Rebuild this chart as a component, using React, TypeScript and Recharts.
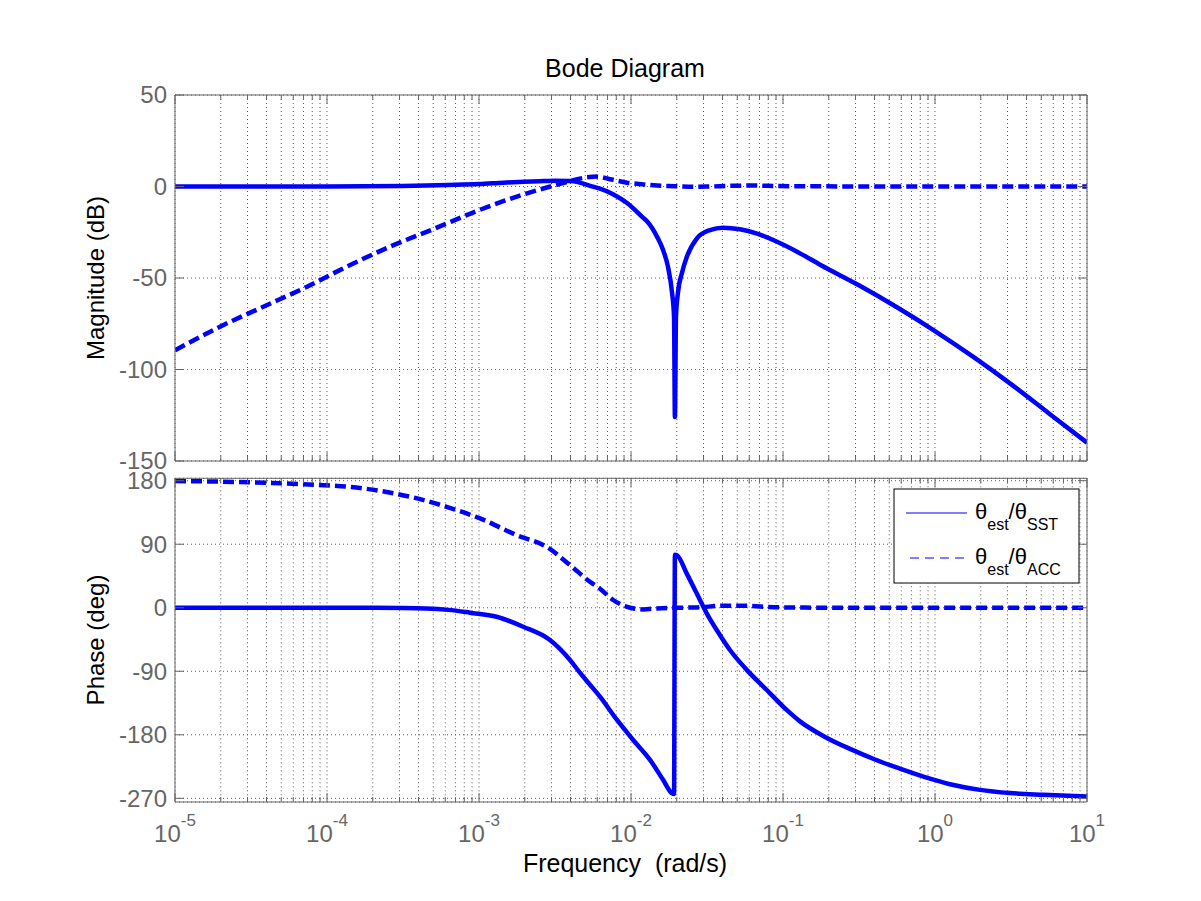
import React from 'react'
import { CartesianGrid, Line, LineChart, XAxis, YAxis } from 'recharts'

// Bode diagram of the two complementary filter paths (theta_est / theta_SST, theta_est / theta_ACC)

const FONT = "'Liberation Sans', Arial, Helvetica, sans-serif"
const BLUE = '#0000ff'
const AXIS = '#666666'
const GRID = '#5a5a5a'

// frequency axis (rad/s)
const decades = [1e-5, 1e-4, 1e-3, 1e-2, 1e-1, 1]
const multipliers = [1, 2, 3, 4, 5, 6, 7, 8, 9]
const majorFreqs = [1e-5, 1e-4, 1e-3, 1e-2, 1e-1, 1, 10]
const majorExponents = ['-5', '-4', '-3', '-2', '-1', '0', '1']
const freqTicks = [...decades.flatMap((d) => multipliers.map((m) => m * d)), 10]

const magTicks = [-150, -100, -50, 0, 50]
const phaseTicks = [-270, -180, -90, 0, 90, 180]

// theta_est / theta_SST magnitude (dB)
const sstMagFreq = [
  1e-5, 1e-4, 3.16e-4, 6.3e-4, 1e-3, 1.45e-3, 2.5e-3, 3.16e-3, 3.98e-3, 4.61e-3,
  5.62e-3, 6.25e-3, 7.62e-3, 9.42e-3, 0.012, 0.01274, 0.01483, 0.01626, 0.0175,
  0.01862, 0.01919, 0.01945, 0.01977, 0.02037, 0.02168, 0.02333, 0.02716, 0.0331,
  0.0403, 0.0521, 0.0675, 0.0914, 0.1236, 0.178, 0.316, 0.562, 1, 1.778, 3.162,
  5.623, 10,
]
const sstMagDb = [
  0, 0, 0.3, 0.8, 1.3, 2.1, 2.9, 3.1, 3.0, 2.1,
  -0.1, -1.2, -4.2, -9, -17, -19, -27.4, -34.7, -43.8,
  -58, -71, -126, -71, -58, -47, -38.3, -28.3, -23.8,
  -22.5, -23.4, -25.8, -30.2, -35.6, -43, -54, -66, -79, -93, -108,
  -124, -140,
]

// theta_est / theta_ACC magnitude (dB)
const accMagFreq = [
  1e-5, 1.977e-5, 3.81e-5, 7.16e-5, 1.349e-4, 2.594e-4, 5.14e-4, 9.66e-4, 1.816e-3,
  3.41e-3, 5.13e-3, 5.97e-3, 7.28e-3, 9.42e-3, 0.0118, 0.01483, 0.01919, 0.02594,
  0.0331, 0.0476, 0.0644, 0.0873, 0.158, 1, 10,
]
const accMagDb = [
  -89.5, -76.6, -65.7, -55.3, -43.8, -32.9, -22.9, -13.4, -5.2,
  1.4, 5.0, 5.4, 4.0, 2.1, 1.2, 0.5, 0.2, -0.2,
  0, 0.4, 0.5, 0.3, 0.1, 0, 0,
]

// theta_est / theta_SST phase (deg)
const sstPhaseFreq = [
  1e-5, 1e-4, 3.16e-4, 4.53e-4, 6.3e-4, 8.73e-4, 1.305e-3, 1.954e-3, 2.93e-3,
  3.97e-3, 4.61e-3, 5.37e-3, 6.25e-3, 8.09e-3, 0.0103, 0.01334, 0.01626, 0.01854,
  0.01919, 0.01945, 0.02, 0.02323, 0.02704, 0.03148, 0.03664, 0.04477, 0.0577,
  0.0782, 0.1057, 0.1294, 0.189, 0.276, 0.403, 0.589, 0.86, 1.256, 1.977, 3.11,
  5.14, 10,
]
const sstPhaseDeg = [
  0, 0, -0.3, -0.9, -3, -7, -12.7, -26.9, -45.7,
  -74, -92, -109, -126, -159, -187, -215.5, -243.8, -262.6,
  -264, 75, 74.6, 48.7, 20.4, -7.9, -31.6, -59.9, -88,
  -116.5, -144.8, -161, -183, -200, -215, -228, -240, -250, -258, -262.5,
  -265, -267.5,
]

// theta_est / theta_ACC phase (deg)
const accPhaseFreq = [
  1e-5, 3.27e-5, 6.98e-5, 1.416e-4, 2.234e-4, 3.7e-4, 6.12e-4, 1.016e-3, 1.77e-3,
  2.786e-3, 3.97e-3, 5.37e-3, 6.25e-3, 7.62e-3, 9.42e-3, 0.012, 0.01483, 0.02,
  0.0272, 0.0406, 0.055, 0.0741, 0.1, 0.2, 10,
]
const accPhaseDeg = [
  179.5, 177.6, 175, 171.2, 165.6, 156.2, 143, 126.5, 102.9,
  86.3, 60.4, 36.8, 27, 11, 1.4, -2.3, -0.9, 0,
  0.5, 2.8, 2.8, 1.4, 0.5, 0.1, 0,
]

const toRows = (fs: number[], vs: number[]) => fs.map((f, i) => ({ f, v: vs[i] }))

const majorIndex = (v: number) => majorFreqs.findIndex((m) => Math.abs(v / m - 1) < 1e-6)

type TickProps = { x: number; y: number; payload: { value: number } }

const XTickBottom = ({ x, y, payload, label }: TickProps & { label: boolean }) => {
  const i = majorIndex(payload.value)
  return (
    <g>
      <line x1={x} x2={x} y1={y} y2={y - (i >= 0 ? 9 : 5)} stroke={AXIS} />
      {label && i >= 0 && (
        <text x={x} y={y + 40} textAnchor="middle" fill={AXIS} fontSize={24} fontFamily={FONT}>
          <tspan>10</tspan>
          <tspan dy={-16} fontSize={17}>
            {majorExponents[i]}
          </tspan>
        </text>
      )}
    </g>
  )
}

const XTickTop = ({ x, y, payload }: TickProps) => {
  const i = majorIndex(payload.value)
  return <line x1={x} x2={x} y1={y} y2={y + (i >= 0 ? 9 : 5)} stroke={AXIS} />
}

const YTickLeft = ({ x, y, payload }: TickProps) => (
  <g>
    <line x1={x} x2={x + 9} y1={y} y2={y} stroke={AXIS} />
    <text x={x - 8} y={y} dy="0.35em" textAnchor="end" fill={AXIS} fontSize={24} fontFamily={FONT}>
      {String(payload.value)}
    </text>
  </g>
)

const YTickRight = ({ x, y }: TickProps) => <line x1={x} x2={x - 9} y1={y} y2={y} stroke={AXIS} />

type PanelProps = {
  marginTop: number
  marginBottom: number
  domain: [number, number]
  ticks: number[]
  solid: { f: number; v: number }[]
  dashed: { f: number; v: number }[]
  xLabels: boolean
}

// each panel is a full-page svg so tick labels near the gap are never clipped
function Panel({ marginTop, marginBottom, domain, ticks, solid, dashed, xLabels }: PanelProps) {
  return (
    <div style={{ position: 'absolute', left: 0, top: 0 }}>
      <LineChart
        width={1201}
        height={901}
        margin={{ top: marginTop, right: 109, bottom: marginBottom, left: 170 }}
      >
        <CartesianGrid stroke={GRID} strokeDasharray="1 3" />
        <XAxis
          dataKey="f"
          type="number"
          scale="log"
          domain={[1e-5, 10]}
          allowDataOverflow
          ticks={freqTicks}
          interval={0}
          height={5}
          tickSize={0}
          tickMargin={0}
          tickLine={false}
          axisLine={{ stroke: AXIS }}
          tick={(p: any) => <XTickBottom {...p} label={xLabels} />}
        />
        <XAxis
          xAxisId="t"
          orientation="top"
          dataKey="f"
          type="number"
          scale="log"
          domain={[1e-5, 10]}
          allowDataOverflow
          ticks={freqTicks}
          interval={0}
          height={5}
          tickSize={0}
          tickMargin={0}
          tickLine={false}
          axisLine={{ stroke: AXIS }}
          tick={(p: any) => <XTickTop {...p} />}
        />
        <YAxis
          type="number"
          domain={domain}
          allowDataOverflow
          ticks={ticks}
          interval={0}
          width={5}
          tickSize={0}
          tickMargin={0}
          tickLine={false}
          axisLine={{ stroke: AXIS }}
          tick={(p: any) => <YTickLeft {...p} />}
        />
        <YAxis
          yAxisId="r"
          orientation="right"
          type="number"
          domain={domain}
          allowDataOverflow
          ticks={ticks}
          interval={0}
          width={5}
          tickSize={0}
          tickMargin={0}
          tickLine={false}
          axisLine={{ stroke: AXIS }}
          tick={(p: any) => <YTickRight {...p} />}
        />
        <Line
          data={solid}
          dataKey="v"
          type="monotone"
          stroke={BLUE}
          strokeWidth={4.5}
          strokeLinejoin="round"
          dot={false}
          isAnimationActive={false}
        />
        <Line
          data={dashed}
          dataKey="v"
          type="monotone"
          stroke={BLUE}
          strokeWidth={4.5}
          strokeDasharray="11 5"
          dot={false}
          isAnimationActive={false}
        />
      </LineChart>
    </div>
  )
}

export default function App() {
  return (
    <div
      style={{
        position: 'absolute',
        left: 0,
        top: 0,
        width: 1201,
        height: 901,
        background: '#ffffff',
        fontFamily: FONT,
      }}
    >
      <Panel
        marginTop={90}
        marginBottom={435}
        domain={[-150, 50]}
        ticks={magTicks}
        solid={toRows(sstMagFreq, sstMagDb)}
        dashed={toRows(accMagFreq, accMagDb)}
        xLabels={false}
      />
      <Panel
        marginTop={473.3}
        marginBottom={94}
        domain={[-275.2, 183.4]}
        ticks={phaseTicks}
        solid={toRows(sstPhaseFreq, sstPhaseDeg)}
        dashed={toRows(accPhaseFreq, accPhaseDeg)}
        xLabels
      />
      <svg
        width={1201}
        height={901}
        style={{ position: 'absolute', left: 0, top: 0, pointerEvents: 'none' }}
        fontFamily={FONT}
      >
        <text x={625} y={77} textAnchor="middle" fontSize={25} fill="#000">
          Bode Diagram
        </text>
        <text x={625} y={872} textAnchor="middle" fontSize={25} fill="#000" style={{ whiteSpace: 'pre' }}>
          {'Frequency  (rad/s)'}
        </text>
        <text x={104} y={278} textAnchor="middle" fontSize={24} fill="#000" transform="rotate(-90 104 278)">
          Magnitude (dB)
        </text>
        <text x={104} y={640} textAnchor="middle" fontSize={24} fill="#000" transform="rotate(-90 104 640)">
          Phase (deg)
        </text>
        <rect x={894} y={489} width={185} height={94} fill="#ffffff" stroke="#000" strokeWidth={1} />
        <line x1={906} x2={967} y1={513} y2={513} stroke={BLUE} strokeWidth={1.2} />
        <line x1={910} x2={967} y1={558} y2={558} stroke={BLUE} strokeWidth={1.2} strokeDasharray="9 6" />
        <text x={975} y={519} fontSize={22} fill="#000">
          θ
          <tspan dy={11} fontSize={16}>est</tspan>
          <tspan dy={-11}>/θ</tspan>
          <tspan dy={11} fontSize={16}>SST</tspan>
        </text>
        <text x={975} y={564} fontSize={22} fill="#000">
          θ
          <tspan dy={11} fontSize={16}>est</tspan>
          <tspan dy={-11}>/θ</tspan>
          <tspan dy={11} fontSize={16}>ACC</tspan>
        </text>
      </svg>
    </div>
  )
}
